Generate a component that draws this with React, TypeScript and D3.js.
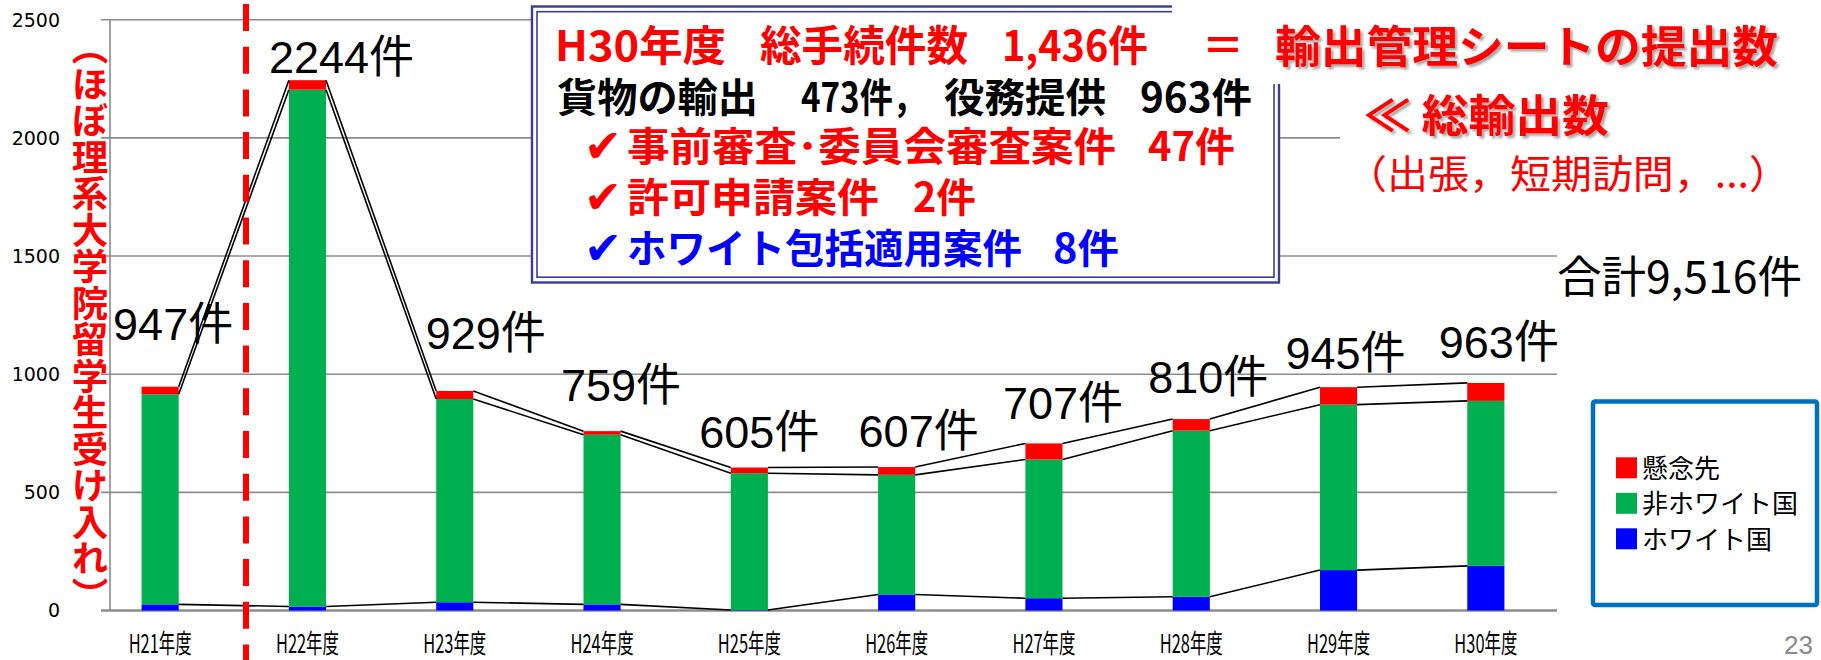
import { useEffect, useRef } from 'react';
import * as d3 from 'd3';

// fiscal years (x categories)
const years = ['H21年度', 'H22年度', 'H23年度', 'H24年度', 'H25年度', 'H26年度', 'H27年度', 'H28年度', 'H29年度', 'H30年度'];

// stacked series, bottom to top
const whiteCountries = [26, 17, 35, 26, 2, 68, 52, 58, 171, 189];
const nonWhiteCountries = [889, 2187, 860, 718, 579, 506, 587, 703, 700, 698];
const concernParties = [32, 40, 34, 15, 24, 33, 68, 49, 74, 76];

// printed totals above the bars
const totals = [947, 2244, 929, 759, 605, 607, 707, 810, 945, 963];

const yTicks = [0, 500, 1000, 1500, 2000, 2500];

const seriesKeys = ['white', 'nonWhite', 'concern'];
const seriesColors: Record<string, string> = { white: '#0000FF', nonWhite: '#00B050', concern: '#FF0000' };
const legendItems = [
  { key: 'concern', name: '懸念先' },
  { key: 'nonWhite', name: '非ホワイト国' },
  { key: 'white', name: 'ホワイト国' }
];

// hand placed total labels: [dx from bar centre, dy from bar top]
const labelNudge = [[13, -47], [34, -7], [31, -42], [19, -30], [10, -20], [22, -20], [19, -24], [17, -26], [7, -18], [13, -25]];

const JP = "'Noto Sans CJK JP', sans-serif";

export default function App() {
  const svgRef = useRef<SVGSVGElement>(null);

  useEffect(() => {
    if (!svgRef.current) return;
    const W = 1821;
    const H = 660;
    const svg = d3.select(svgRef.current);
    svg.selectAll('*').remove();

    const x = d3.scaleBand().domain(years).range([86.5, 1559.5]).padding(0);
    const y = d3.scaleLinear().domain([0, 2500]).range([610.5, 19.7]);
    const barW = x.bandwidth() * 0.252;
    const cx = (d: string) => (x(d) as number) + x.bandwidth() / 2;

    const defs = svg.append('defs');
    const shadow = defs.append('filter').attr('id', 'shadow')
      .attr('x', '-5%').attr('y', '-20%').attr('width', '115%').attr('height', '150%');
    shadow.append('feDropShadow').attr('dx', 2.5).attr('dy', 2.5).attr('stdDeviation', 1.3)
      .attr('flood-color', '#000').attr('flood-opacity', 0.35);

    svg.append('rect').attr('width', W).attr('height', H).attr('fill', '#fff');

    // gridlines
    svg.append('g').selectAll('line').data(yTicks).join('line')
      .attr('x1', 101).attr('x2', 1557)
      .attr('y1', d => y(d)).attr('y2', d => y(d))
      .attr('stroke', '#8c8c8c')
      .attr('stroke-width', d => (d === 0 ? 2.5 : 1.6));

    svg.append('line')
      .attr('x1', 110).attr('x2', 110).attr('y1', y(2500)).attr('y2', y(0))
      .attr('stroke', '#8c8c8c').attr('stroke-width', 1.6);

    svg.append('g').selectAll('text').data(yTicks).join('text')
      .attr('x', 60).attr('y', d => y(d)).attr('dy', '0.36em')
      .attr('text-anchor', 'end')
      .attr('font-family', "'DejaVu Sans', sans-serif").attr('font-size', 19)
      .attr('fill', '#000')
      .text(d => d);

    // stacked bars
    const table = years.map((yr, i) => ({
      year: yr,
      white: whiteCountries[i],
      nonWhite: nonWhiteCountries[i],
      concern: concernParties[i]
    }));
    const layers = d3.stack<any>().keys(seriesKeys)(table);

    const barG = svg.append('g');
    layers.forEach(layer => {
      barG.append('g').attr('fill', seriesColors[layer.key])
        .selectAll('rect').data(layer).join('rect')
        .attr('x', d => cx(d.data.year) - barW / 2)
        .attr('width', barW)
        .attr('y', d => y(d[1]))
        .attr('height', d => Math.max(0, y(d[0]) - y(d[1])));
    });

    // series lines between bars
    const lineG = svg.append('g').attr('stroke', '#000').attr('stroke-width', 1.6).attr('fill', 'none');
    layers.forEach(layer => {
      d3.pairs(layer).forEach(([a, b]) => {
        lineG.append('line')
          .attr('x1', cx(a.data.year) + barW / 2).attr('y1', y(a[1]))
          .attr('x2', cx(b.data.year) - barW / 2).attr('y2', y(b[1]));
      });
    });

    // x labels
    svg.append('g').selectAll('text').data(years).join('text')
      .attr('x', d => cx(d)).attr('y', 653)
      .attr('text-anchor', 'middle')
      .attr('font-family', JP).attr('font-size', 26)
      .attr('textLength', 63).attr('lengthAdjust', 'spacingAndGlyphs')
      .attr('fill', '#000')
      .text(d => d);

    // total labels
    svg.append('g').selectAll('text').data(totals).join('text')
      .attr('x', (d, i) => cx(years[i]) + labelNudge[i][0])
      .attr('y', (d, i) => y(d) + labelNudge[i][1])
      .attr('text-anchor', 'middle')
      .attr('font-family', "'Liberation Sans', 'Noto Sans CJK JP', sans-serif")
      .attr('font-size', 45).attr('fill', '#000')
      .text(d => `${d}件`);

    // red dashed divider
    svg.append('line')
      .attr('x1', 246).attr('x2', 246).attr('y1', 4).attr('y2', H)
      .attr('stroke', '#FF0000').attr('stroke-width', 6)
      .attr('stroke-dasharray', '27 15.7');

    // vertical note
    svg.append('text')
      .attr('x', 90).attr('y', 29)
      .style('writing-mode', 'vertical-rl')
      .attr('font-family', JP).attr('font-weight', 700).attr('font-size', 36.5)
      .attr('fill', '#FF0000')
      .text('（ほぼ理系大学院留学生受け入れ）');

    // text box
    const box = svg.append('g');
    box.append('rect').attr('x', 532).attr('y', 6.5).attr('width', 747).attr('height', 276)
      .attr('fill', '#fff').attr('stroke', '#3c3c96').attr('stroke-width', 2.4);
    box.append('rect').attr('x', 537).attr('y', 11.7).attr('width', 737).attr('height', 265.5)
      .attr('fill', 'none').attr('stroke', '#3c3c96').attr('stroke-width', 1.6);

    // white backing of the headline and side note
    svg.append('rect').attr('x', 1172).attr('y', 0).attr('width', W - 1172).attr('height', 84).attr('fill', '#fff');
    svg.append('rect').attr('x', 1340).attr('y', 84).attr('width', W - 1340).attr('height', 120).attr('fill', '#fff');

    const put = (text: string, tx: number, ty: number, size: number, color: string, weight: number, width?: number, family = JP) => {
      const t = svg.append('text')
        .attr('x', tx).attr('y', ty)
        .attr('font-family', family).attr('font-size', size)
        .attr('font-weight', weight).attr('fill', color)
        .text(text);
      if (width) t.attr('textLength', width).attr('lengthAdjust', 'spacingAndGlyphs');
      return t;
    };

    const RED = '#FF0000';
    const check = "'DejaVu Sans', sans-serif";

    put('H30年度', 555, 61, 42, RED, 700, 171);
    put('総手続件数', 760, 61, 42, RED, 700, 208);
    put('1,436件', 1002, 61, 42, RED, 700, 146);
    put('＝', 1223, 61, 42, RED, 700).attr('text-anchor', 'middle');
    put('輸出管理シートの提出数', 1275, 63, 44, RED, 700, 503).attr('filter', 'url(#shadow)');

    put('貨物の輸出', 557, 112, 40, '#000', 700, 201);
    put('473件，', 801, 112, 40, '#000', 700, 125);
    put('役務提供', 944, 112, 40, '#000', 700, 162);
    put('963件', 1140, 112, 40, '#000', 700, 112);

    put('✔', 584, 162, 46, RED, 700, 38, check);
    put('事前審査･委員会審査案件', 627, 161, 40, RED, 700, 489);
    put('47件', 1148, 161, 40, RED, 700, 87);

    put('✔', 584, 213, 46, RED, 700, 38, check);
    put('許可申請案件', 627, 212, 40, RED, 700, 252);
    put('2件', 913, 212, 40, RED, 700, 63);

    put('✔', 584, 264, 46, '#0000FF', 700, 38, check);
    put('ホワイト包括適用案件', 627, 263, 40, '#0000FF', 700, 395);
    put('8件', 1053, 263, 40, '#0000FF', 700, 66);

    put('≪ 総輸出数', 1364, 132, 44, RED, 700, 245).attr('filter', 'url(#shadow)');
    put('（出張，短期訪問，...）', 1346, 188, 39, RED, 400, 444);
    put('合計9,516件', 1557, 293, 44, '#000', 400, 245);

    // legend
    const lg = svg.append('g');
    lg.append('rect').attr('x', 1593).attr('y', 401.5).attr('width', 224).attr('height', 203.5)
      .attr('rx', 2).attr('fill', '#fff').attr('stroke', '#0070C0').attr('stroke-width', 4.5);
    const items = lg.selectAll('g.item').data(legendItems).join('g')
      .attr('class', 'item')
      .attr('transform', (d, i) => `translate(1616,${457.3 + i * 35.5})`);
    items.append('rect').attr('width', 21).attr('height', 21).attr('fill', d => seriesColors[d.key]);
    items.append('text').attr('x', 26).attr('y', 20.5)
      .attr('font-family', JP).attr('font-size', 26).attr('fill', '#000')
      .text(d => d.name);

    // slide number
    put('23', 1813, 654, 26, '#8a8a8a', 400, undefined, "'Liberation Sans', sans-serif").attr('text-anchor', 'end');
  }, []);

  return (
    <svg
      ref={svgRef}
      width={1821}
      height={660}
      style={{ position: 'absolute', left: 0, top: 0, display: 'block' }}
    />
  );
}
